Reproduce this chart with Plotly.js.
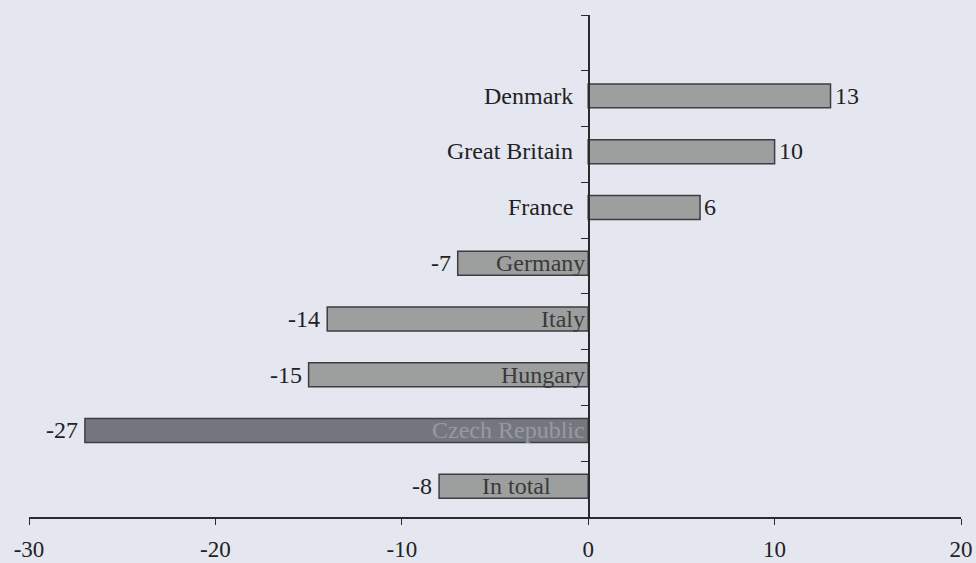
<!DOCTYPE html>
<html><head><meta charset="utf-8">
<script src="https://cdn.plot.ly/plotly-3.0.1.min.js"></script>
<style>html,body{margin:0;padding:0;background:#e4e7f0;}</style>
</head><body>
<div id="chart" style="width:976px;height:563px;"></div>
<script>
const categories = ["In total", "Czech Republic", "Hungary", "Italy", "Germany", "France", "Great Britain", "Denmark"];
const values = [-8, -27, -15, -14, -7, 6, 10, 13];
const xTicks = [-30, -20, -10, 0, 10, 20];
const allCats = categories.concat([" "]);

const barColors = values.map((v, i) => categories[i] === "Czech Republic" ? "#74777e" : "#9d9f9f");
const serif = "'Liberation Serif', serif";
const BW = 0.43, LIFT = 0.05, LIFTPX = 3;

const trace = {
  type: "bar", orientation: "h",
  x: values, y: categories,
  width: BW, offset: -BW / 2 + LIFT,
  marker: {color: barColors, line: {color: "#3c3d40", width: 1.5}},
  hoverinfo: "none"
};

const annotations = [];
categories.forEach((c, i) => {
  const v = values[i];
  const centered = c === "In total";
  annotations.push({
    x: centered ? v / 2 : 0, y: c, xref: "x", yref: "y", text: c, showarrow: false,
    xanchor: centered ? "center" : "right", xshift: centered ? 3 : (v > 0 ? -13 : -1), yshift: LIFTPX,
    font: {family: serif, size: 24, color: c === "Czech Republic" ? "#969aa4" : (v > 0 ? "#222" : "#3a3a3a")}
  });
  annotations.push({
    x: v, y: c, xref: "x", yref: "y", text: String(v), showarrow: false,
    xanchor: v > 0 ? "left" : "right", xshift: v > 0 ? 2 : -5, yshift: LIFTPX,
    font: {family: serif, size: 24, color: "#222"}
  });
});

const layout = {
  width: 976, height: 563,
  margin: {l: 29, r: 15, t: 15, b: 46},
  paper_bgcolor: "#e4e7f0", plot_bgcolor: "#e4e7f0",
  showlegend: false,
  xaxis: {
    range: [-30, 20], tickvals: xTicks, ticktext: xTicks.map(String),
    showgrid: false, zeroline: false, showline: true, linecolor: "#2a2a2a", linewidth: 1.5,
    ticks: "outside", ticklen: 6, tickcolor: "#2a2a2a",
    tickfont: {family: serif, size: 23, color: "#222"}, ticklabelstandoff: 5
  },
  yaxis: {
    type: "category", categoryorder: "array", categoryarray: allCats,
    range: [-0.5, allCats.length - 0.5],
    anchor: "free", position: 0.6,
    showgrid: false, zeroline: false, showline: true, linecolor: "#2a2a2a", linewidth: 1.5,
    ticks: "outside", tickson: "boundaries", ticklen: 7, tickcolor: "#2a2a2a",
    showticklabels: false
  },
  annotations: annotations
};

Plotly.newPlot("chart", [trace], layout, {staticPlot: true, displayModeBar: false});
</script>
</body></html>
